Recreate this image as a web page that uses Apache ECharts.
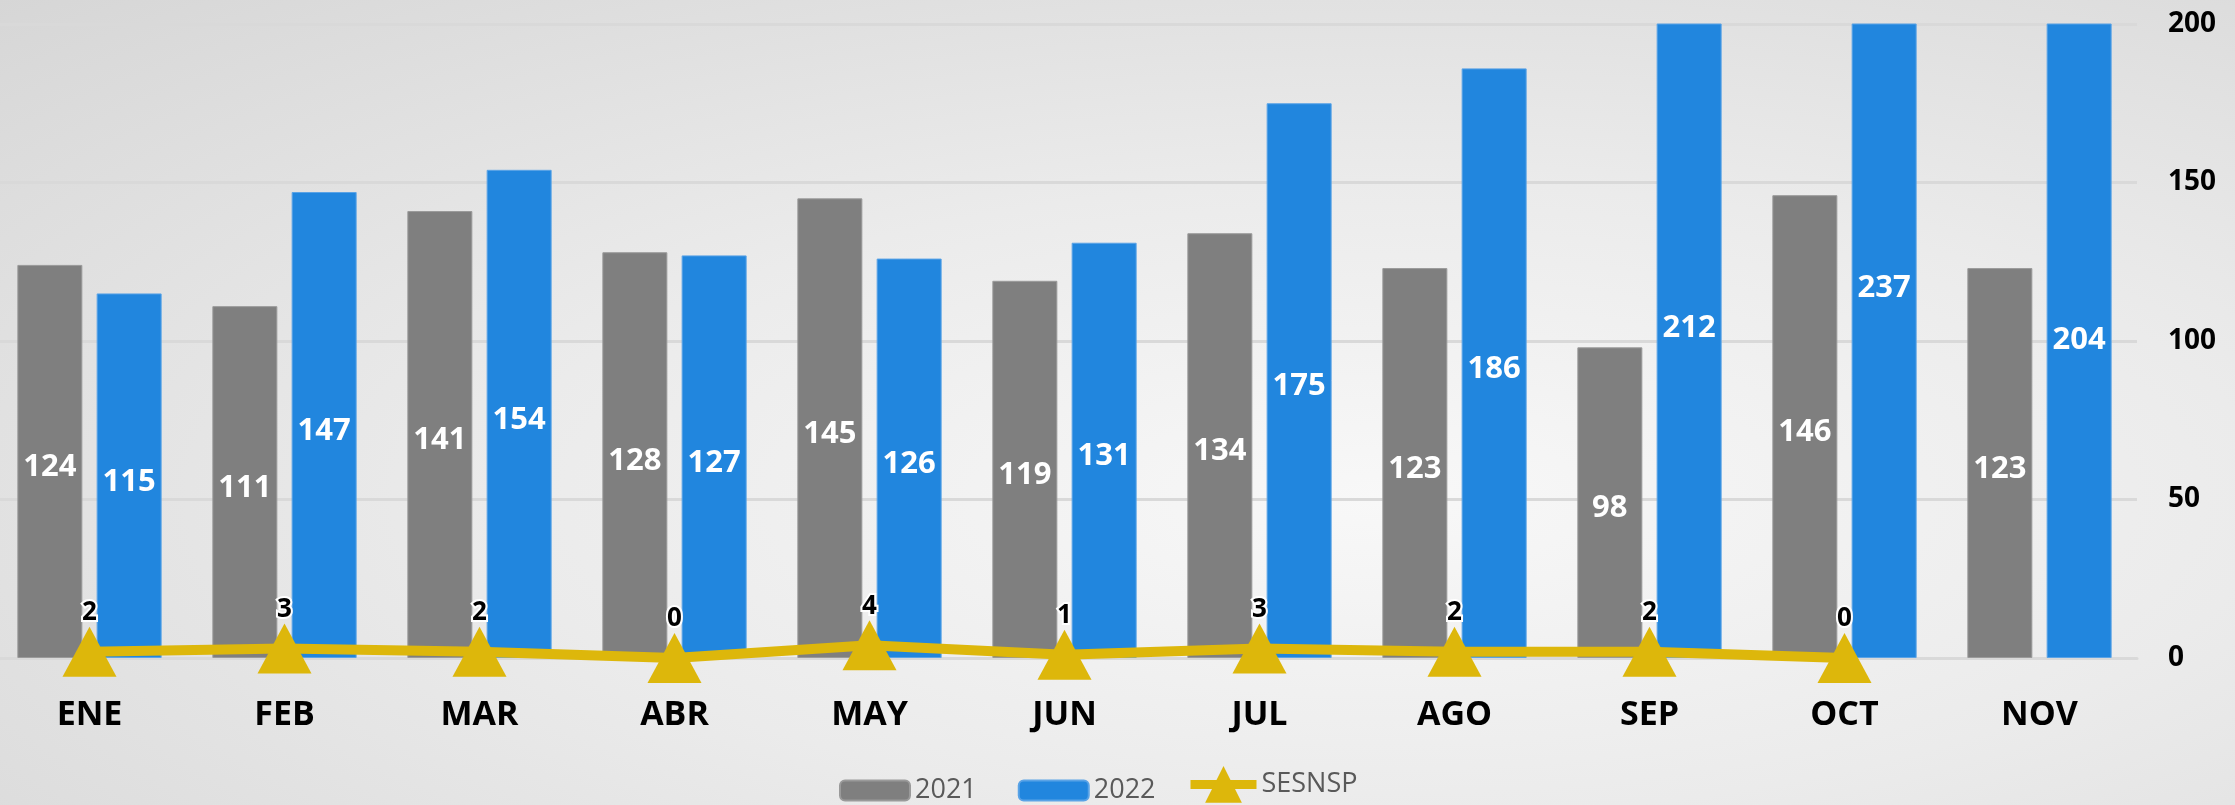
<!DOCTYPE html>
<html lang="es">
<head>
    <meta charset="UTF-8">
    <title>2021 vs 2022 - SESNSP</title>
    <style>
        body { margin: 0; overflow: hidden; }
        #container {
            width: 2243px;
            height: 805px;
            margin-left: -8px;
            background: radial-gradient(ellipse at 62% 62%, #f8f8f8 0%, #ebebeb 45%, #d6d6d6 100%);
        }
    </style>
</head>
<body>
<div id="container"></div>
<script type="text/javascript" src="https://cdn.jsdelivr.net/npm/echarts@6/dist/echarts.min.js"></script>
<script type="text/javascript">
    const months = ['ENE', 'FEB', 'MAR', 'ABR', 'MAY', 'JUN', 'JUL', 'AGO', 'SEP', 'OCT', 'NOV'];
    const values2021 = [124, 111, 141, 128, 145, 119, 134, 123, 98, 146, 123];
    const values2022 = [115, 147, 154, 127, 126, 131, 175, 186, 212, 237, 204];
    const sesnsp = [2, 3, 2, 0, 4, 1, 3, 2, 2, 0, '-'];
    const yTicks = [0, 50, 100, 150, 200];

    const dom = document.getElementById('container');
    const myChart = echarts.init(dom, null, {renderer: 'canvas'});

    // labels sit at the middle of the full bar, even when the bar is cut at 200
    function midLabel(values) {
        return function (params) {
            const y = myChart.convertToPixel({yAxisIndex: 0}, values[params.dataIndex] / 2);
            return {y: y, dy: 6, align: 'center', verticalAlign: 'middle'};
        };
    }

    const barLabel = {
        show: true,
        position: 'inside',
        color: '#fff',
        fontFamily: 'Open Sans',
        fontWeight: 'bold',
        fontSize: 31
    };

    const legendText = {color: '#595959', fontSize: 27, fontFamily: 'Open Sans'};

    const option = {
        backgroundColor: 'transparent',
        textStyle: {fontFamily: 'Open Sans'},
        grid: {left: 0, right: 98, top: 24, bottom: 147},
        legend: [
            {
                left: 842,
                top: 772,
                itemWidth: 70,
                itemHeight: 20,
                itemGap: 41,
                textStyle: legendText,
                data: ['2021', '2022']
            },
            {
                left: 1189,
                top: 761,
                itemWidth: 66,
                itemHeight: 46,
                textStyle: legendText,
                lineStyle: {width: 9},
                data: ['SESNSP']
            }
        ],
        xAxis: {
            type: 'category',
            data: months,
            axisTick: {show: false},
            axisLine: {lineStyle: {color: '#d9d9d9', width: 3}},
            axisLabel: {
                margin: 40,
                color: '#000',
                fontSize: 34,
                fontWeight: 'bold',
                fontFamily: 'Open Sans'
            }
        },
        yAxis: {
            type: 'value',
            position: 'right',
            min: yTicks[0],
            max: yTicks[yTicks.length - 1],
            interval: 50,
            axisLine: {show: false},
            axisTick: {show: false},
            splitLine: {lineStyle: {color: '#d9d9d9', width: 3}},
            axisLabel: {
                margin: 31,
                color: '#000',
                fontSize: 28,
                fontWeight: 'bold',
                fontFamily: 'Open Sans'
            }
        },
        series: [
            {
                name: '2021',
                type: 'bar',
                data: values2021,
                barWidth: 65,
                barGap: '22%',
                itemStyle: {color: '#7f7f7f', borderColor: '#9a9a9a', borderWidth: 1},
                label: barLabel,
                labelLayout: midLabel(values2021),
                z: 2
            },
            {
                name: '2022',
                type: 'bar',
                data: values2022,
                barWidth: 65,
                itemStyle: {color: '#2186de', borderColor: '#5aa3e6', borderWidth: 1},
                label: barLabel,
                labelLayout: midLabel(values2022),
                z: 2
            },
            {
                name: 'SESNSP',
                type: 'line',
                data: sesnsp,
                symbol: 'triangle',
                symbolSize: [54, 50],
                color: '#ddb70b',
                lineStyle: {color: '#ddb70b', width: 10},
                itemStyle: {color: '#ddb70b'},
                label: {
                    show: true,
                    position: 'top',
                    distance: 1,
                    color: '#000',
                    fontSize: 26,
                    fontWeight: 'bold',
                    fontFamily: 'Open Sans',
                    textBorderColor: '#fff',
                    textBorderWidth: 4
                },
                z: 5
            }
        ]
    };
    myChart.setOption(option);
</script>
</body>
</html>
